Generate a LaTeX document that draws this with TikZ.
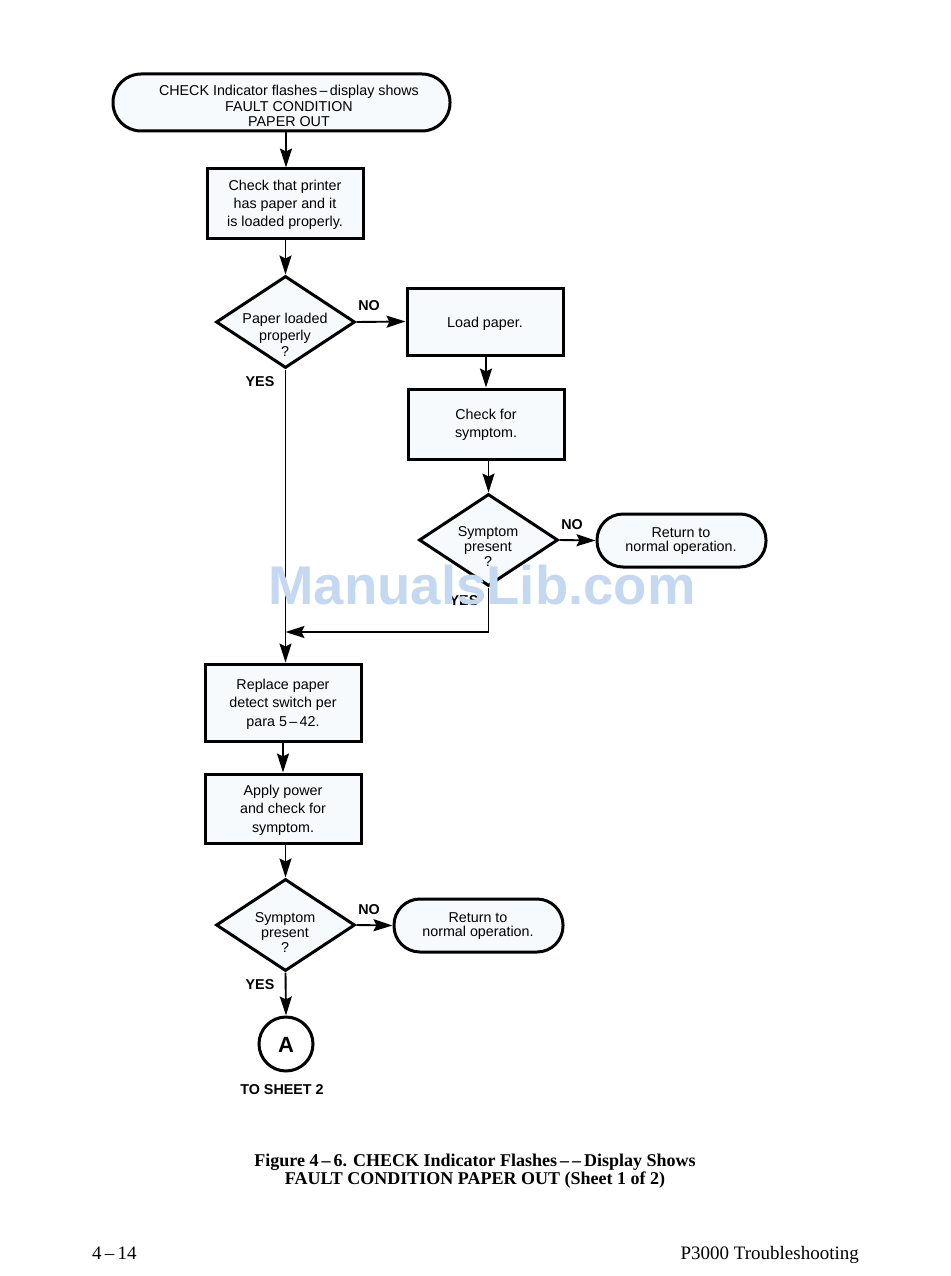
\documentclass[tikz,border=0pt]{standalone}
\usepackage{fontspec}
\setmainfont{Liberation Sans}
\newfontfamily\seriffont{Liberation Serif}
\usetikzlibrary{shapes.geometric,arrows.meta}
\definecolor{boxfill}{RGB}{246,250,252}
\definecolor{wmark}{RGB}{196,216,242}
\tikzset{
  shapeline/.style={draw=black,line width=3pt,fill=boxfill},
  procbox/.style={shapeline,rectangle,inner sep=0pt},
  termbox/.style={shapeline,rectangle,inner sep=0pt},
  dia/.style={shapeline,diamond,inner sep=0pt,minimum width=139pt,minimum height=92pt},
  txt/.style={align=center,font=\fontsize{14.3}{17}\selectfont,inner sep=0pt},
  lbl/.style={font=\fontsize{14.3}{16}\selectfont\bfseries,inner sep=0pt},
  conn/.style={draw=black,line width=1.9pt,-{Stealth[length=19pt,width=12pt,inset=3pt]}},
}
\begin{document}
\begin{tikzpicture}[x=1pt,y=-1pt]
\useasboundingbox (0,0) rectangle (950,1276);
% top terminal
\node[termbox,minimum width=337pt,minimum height=57pt,rounded corners=28pt] (t1) at (281.5,102.5) {};
\node[txt,font=\fontsize{14.3}{15.5}\selectfont] (t1t) at (289,106) {CHECK Indicator flashes\,–\,display shows\\FAULT CONDITION\\PAPER OUT};
% box 1
\node[procbox,minimum width=156pt,minimum height=69pt] (b1) at (285,203.5) {};
\node[txt,font=\fontsize{14.3}{18}\selectfont] (b1t) at (285,205) {Check that printer\\has paper and it\\is loaded properly.};
% diamond 1
\node[dia] (d1) at (285.5,322) {};
\node[txt,font=\fontsize{14.3}{16.5}\selectfont] (d1t) at (285,335) {Paper loaded\\properly\\?};
% load paper
\node[procbox,minimum width=156pt,minimum height=67pt] (lp) at (485,321.5) {};
\node[txt] (lpt) at (485,324) {Load paper.};
% check for symptom
\node[procbox,minimum width=156pt,minimum height=70pt] (cs) at (486,424) {};
\node[txt,font=\fontsize{14.3}{18}\selectfont] (cst) at (486,425) {Check for\\symptom.};
% diamond 2
\node[dia] (d2) at (488.5,540) {};
\node[txt,font=\fontsize{14.3}{15}\selectfont] (d2t) at (488,547) {Symptom\\present\\?};
% terminal 2
\node[termbox,minimum width=169pt,minimum height=53pt,rounded corners=26pt] (t2) at (681.5,540.5) {};
\node[txt,font=\fontsize{14.3}{14.5}\selectfont] (t2t) at (681,541) {Return to\\normal operation.};
% junction
\coordinate (j) at (285.5,632);
% box 3
\node[procbox,minimum width=156pt,minimum height=77pt] (b3) at (283,702.5) {};
\node[txt,font=\fontsize{14.3}{18.5}\selectfont] (b3t) at (283,704) {Replace paper\\detect switch per\\para 5\,–\,42.};
% box 4
\node[procbox,minimum width=156pt,minimum height=69pt] (b4) at (283,808.5) {};
\node[txt,font=\fontsize{14.3}{18.5}\selectfont] (b4t) at (283,810) {Apply power\\and check for\\symptom.};
% diamond 3
\node[dia] (d3) at (285.5,925) {};
\node[txt,font=\fontsize{14.3}{15}\selectfont] (d3t) at (285,932) {Symptom\\present\\?};
% terminal 3
\node[termbox,minimum width=169pt,minimum height=53pt,rounded corners=26pt] (t3) at (478.5,925.5) {};
\node[txt,font=\fontsize{14.3}{14.5}\selectfont] (t3t) at (478,926) {Return to\\normal operation.};
% connector A
\node[shapeline,circle,minimum size=54pt,inner sep=0pt,fill=white] (A) at (286,1044) {};
\node[font=\fontsize{22}{22}\selectfont\bfseries] (At) at (286,1045) {A};
\node[lbl] (sheet) at (282,1090) {TO SHEET 2};
% labels
\node[lbl] (no1) at (369,306) {NO};
\node[lbl] (yes1) at (260,382) {YES};
\node[lbl] (no2) at (572,525) {NO};
\node[lbl] (yes2) at (464,601) {YES};
\node[lbl] (no3) at (369,910) {NO};
\node[lbl] (yes3) at (260,985) {YES};
% connectors
\draw[conn] (t1.south -| 286,0) -- (b1.north -| 286,0);
\draw[conn] (b1.south -| 285.5,0) -- (d1.north);
\draw[conn] (d1.east) -- (lp.west);
\draw[conn] (lp.south -| 486,0) -- (cs.north -| 486,0);
\draw[conn] (cs.south -| 488.5,0) -- (d2.north);
\draw[conn] (d2.east) -- (t2.west);
\draw[conn] (d2.south) |- (j);
\draw[conn] (d1.south) -- (b3.north -| 285.5,0);
\draw[conn] (b3.south) -- (b4.north);
\draw[conn] (b4.south -| 285.5,0) -- (d3.north);
\draw[conn] (d3.east) -- (t3.west);
\draw[conn] (d3.south) -- (A.north);
% caption
\node[font=\seriffont\fontsize{18}{18}\selectfont\bfseries,align=center,inner sep=0pt] (cap) at (475,1171) {Figure 4\,–\,6. CHECK Indicator Flashes\,–\,–\,Display Shows\\FAULT CONDITION PAPER OUT (Sheet 1 of 2)};
\node[font=\seriffont\fontsize{19}{19}\selectfont,anchor=base west,inner sep=0pt] (pg) at (92,1259) {4\,–\,14};
\node[font=\seriffont\fontsize{19}{19}\selectfont,anchor=base east,inner sep=0pt] (ttl) at (859,1259) {P3000 Troubleshooting};
% watermark
\node[font=\fontsize{54.5}{54.5}\selectfont\bfseries,text=wmark,inner sep=0pt] (wm) at (482,585) {ManualsLib.com};
\end{tikzpicture}
\end{document}
